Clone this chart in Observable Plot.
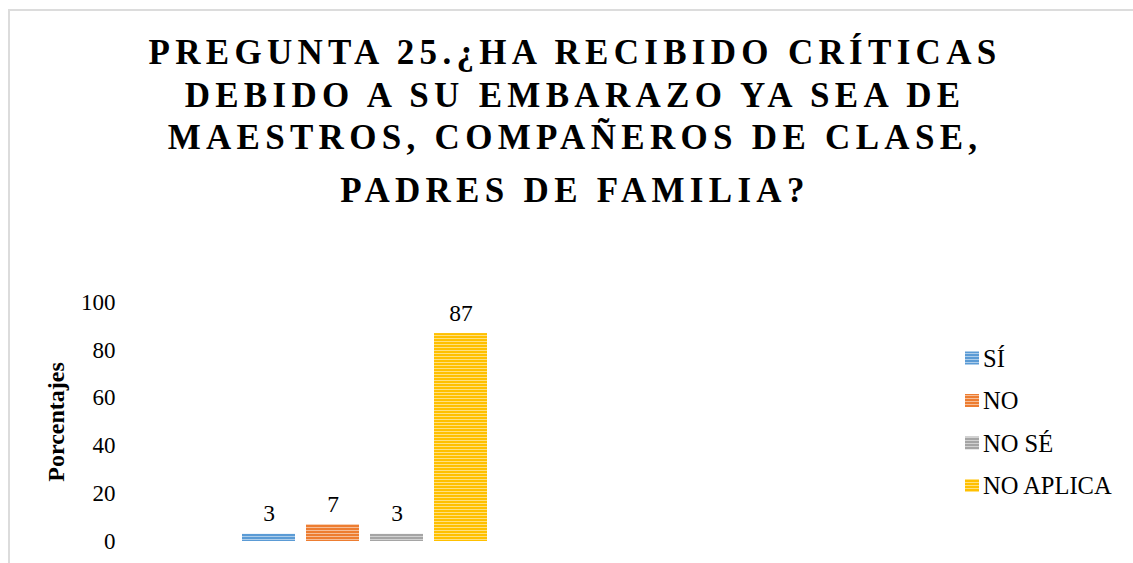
<!DOCTYPE html>
<html><head><meta charset="utf-8">
<script src="https://cdn.jsdelivr.net/npm/d3@7"></script>
<script src="https://cdn.jsdelivr.net/npm/@observablehq/plot@0.6"></script>
<style>
body{margin:0;background:#fff}
#wrap{position:relative;width:1133px;height:563px;overflow:hidden;background:#fff}
#frame{position:absolute;left:8px;top:9px;right:-5px;bottom:-5px;border-left:2px solid #dcdcdc;border-top:2px solid #dcdcdc}
#wrap svg{position:absolute;left:0;top:0}
</style></head><body><div id="wrap"><div id="frame"></div></div>
<script>
const categories = ["SÍ", "NO", "NO SÉ", "NO APLICA"];
const values = [3, 7, 3, 87];
const yTicks = [0, 20, 40, 60, 80, 100];
const titleLines = [
  "PREGUNTA 25.¿HA RECIBIDO CRÍTICAS",
  "DEBIDO A SU EMBARAZO YA SEA DE",
  "MAESTROS, COMPAÑEROS DE CLASE,",
  "PADRES DE FAMILIA?"
];
const yLabel = "Porcentajes";
const colors = ["#5B9BD5", "#ED7D31", "#A5A5A5", "#FFC000"];

const data = categories.map((c, i) => ({cat: c, value: values[i]}));
const patternIds = categories.map((c, i) => `pat${i}`);
const serif = "'Liberation Serif','Times New Roman',Times,serif";

const chart = Plot.plot({
  width: 1133, height: 563,
  marginTop: 302, marginBottom: 22, marginLeft: 125, marginRight: 20,
  style: {fontFamily: serif, fontSize: "23px", color: "#000", background: "transparent", overflow: "visible"},
  x: {domain: categories, range: [236.5, 492.5], paddingInner: 0.17, paddingOuter: 0.085, axis: null},
  y: {domain: [0, 100], axis: null},
  color: {domain: categories, range: patternIds.map(id => `url(#${id})`)},
  marks: [
    Plot.axisY({ticks: yTicks, tickSize: 0, tickPadding: 10, label: null, fontSize: 23}),
    Plot.barY(data, {x: "cat", y: "value", fill: "cat"}),
    Plot.text(data, {x: "cat", y: "value", text: d => String(d.value), dy: -13, lineAnchor: "bottom", fontSize: 23.5, fill: "#000"}),
    Plot.text([yLabel], {frameAnchor: "left", textAnchor: "middle", rotate: -90, dx: -62, lineAnchor: "bottom", fontWeight: "bold", fontSize: 24, fill: "#000"})
  ]
});

const svg = d3.select(chart);
const defs = svg.insert("defs", ":first-child");
colors.forEach((c, i) => {
  const p = defs.append("pattern").attr("id", patternIds[i]).attr("patternUnits", "userSpaceOnUse")
    .attr("width", 4).attr("height", 3);
  p.append("rect").attr("width", 4).attr("height", 3).attr("fill", c);
  p.append("rect").attr("y", 2).attr("width", 4).attr("height", 1).attr("fill", d3.interpolateRgb(c, "#fff")(0.5));
});

// title
const titleBaselines = [64, 106.5, 148.5, 201.5];
svg.append("g").selectAll("text").data(titleLines).join("text")
  .attr("x", 575).attr("y", (d, i) => titleBaselines[i])
  .attr("text-anchor", "middle")
  .attr("font-family", serif).attr("font-weight", "bold").attr("font-size", 35)
  .attr("letter-spacing", 5.3).attr("fill", "#000")
  .text(d => d);

// legend
const legendY = [358, 400.5, 443, 485.5];
const lg = svg.append("g").attr("text-anchor", "start");
categories.forEach((c, i) => {
  lg.append("rect").attr("x", 965).attr("y", legendY[i] - 6.5).attr("width", 14).attr("height", 13)
    .attr("fill", `url(#${patternIds[i]})`);
  lg.append("text").attr("x", 983).attr("y", legendY[i]).attr("dy", "0.35em")
    .attr("text-anchor", "start")
    .attr("font-family", serif).attr("font-size", 24.5).attr("fill", "#000").text(c);
});

document.getElementById("wrap").appendChild(chart);
</script>
</body></html>
